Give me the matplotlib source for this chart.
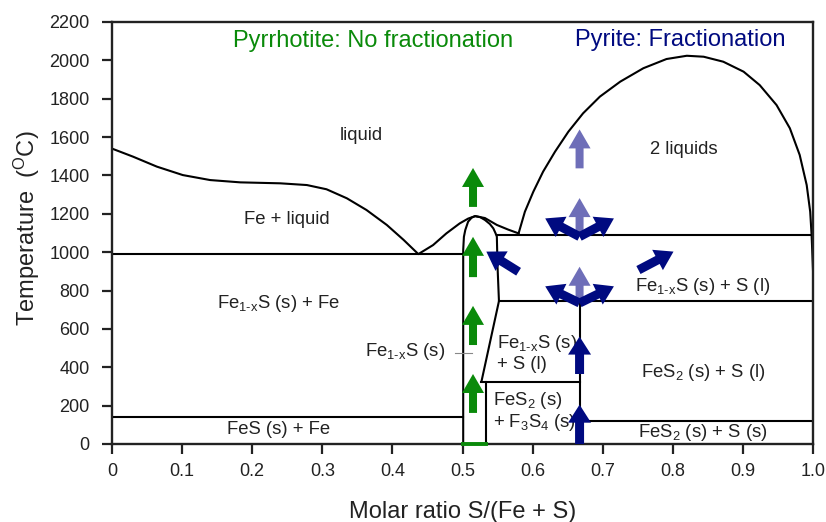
import numpy as np
import matplotlib
matplotlib.use("Agg")
import matplotlib.pyplot as plt
from matplotlib.patches import Polygon
from matplotlib.transforms import IdentityTransform

plt.rcParams['font.family'] = ['Liberation Sans', 'DejaVu Sans']
plt.rcParams['mathtext.fontset'] = 'custom'
plt.rcParams['mathtext.rm'] = 'Liberation Sans'
plt.rcParams['mathtext.it'] = 'Liberation Sans:italic'
plt.rcParams['mathtext.default'] = 'regular'

# ---------------- data ----------------
# liquidus (Fe side -> pyrrhotite maximum -> monotectic)
liq_x = [0.0, 0.030, 0.064, 0.101, 0.140, 0.183, 0.240, 0.278, 0.306, 0.335, 0.363,
         0.392, 0.416, 0.437, 0.458, 0.477, 0.496, 0.508, 0.518, 0.532, 0.549, 0.565, 0.580]
liq_T = [1540, 1498, 1446, 1402, 1376, 1364, 1359, 1350, 1328, 1281, 1220,
         1142, 1064, 990, 1037, 1098, 1150, 1175, 1188, 1178, 1142, 1118, 1098]
# two-liquid dome
dome_x = [0.580, 0.589, 0.601, 0.615, 0.632, 0.651, 0.672, 0.696, 0.725, 0.758, 0.791,
          0.820, 0.844, 0.872, 0.901, 0.924, 0.948, 0.967, 0.981, 0.991, 0.996, 0.998, 1.0]
dome_T = [1098, 1211, 1315, 1420, 1524, 1628, 1724, 1811, 1889, 1959, 2007,
          2024, 2019, 1993, 1941, 1871, 1767, 1646, 1507, 1350, 1211, 1090, 907]
# pyrrhotite (Fe1-xS) field boundary
po_x = [0.501, 0.501, 0.502, 0.504, 0.508, 0.513, 0.518, 0.525, 0.532, 0.539, 0.544,
        0.547, 0.549, 0.550, 0.552, 0.527]
po_T = [0, 1011, 1080, 1116, 1159, 1180, 1188, 1183, 1168, 1147, 1124,
        1100, 1081, 924, 745, 325]
# horizontal invariant lines: (x_start, x_end, T)
h_x0 = [0.0, 0.0, 0.549, 0.552, 0.527, 0.667]
h_x1 = [0.501, 0.501, 1.0, 1.0, 0.667, 1.0]
h_T = [990, 140, 1090, 745, 325, 120]
# vertical lines: (x, T_bottom, T_top)
v_x = [0.534, 0.667]
v_T0 = [0, 0]
v_T1 = [325, 745]

# arrows: tail (x, T) -> tip (x, T)
green_x = [0.515, 0.515, 0.515, 0.515]
green_T0 = [1236, 870, 516, 162]
green_T1 = [1439, 1080, 720, 365]
navy_x0 = [0.667, 0.667, 0.667, 0.667, 0.667, 0.667, 0.580, 0.751]
navy_T0 = [0, 365, 1081, 1081, 735, 735, 898, 907]
navy_x1 = [0.667, 0.667, 0.618, 0.716, 0.618, 0.716, 0.534, 0.801]
navy_T1 = [205, 560, 1176, 1176, 822, 822, 1003, 1003]
light_x = [0.667, 0.667, 0.667]
light_T0 = [1437, 1095, 750]
light_T1 = [1640, 1282, 924]

xticks = [0, 0.1, 0.2, 0.3, 0.4, 0.5, 0.6, 0.7, 0.8, 0.9, 1.0]
xticklabels = ['0', '0.1', '0.2', '0.3', '0.4', '0.5', '0.6', '0.7', '0.8', '0.9', '1.0']
yticks = [0, 200, 400, 600, 800, 1000, 1200, 1400, 1600, 1800, 2000, 2200]

GREEN = '#0a8a0a'
NAVY = '#000a80'
LIGHT = '#6e6eb8'

# ---------------- figure ----------------
fig = plt.figure(figsize=(8.26, 5.22), dpi=100)
ax = fig.add_axes([112 / 826, 1 - 444 / 522, 701 / 826, 422 / 522])
ax.set_xlim(0, 1.0)
ax.set_ylim(0, 2200)

lw = 1.5
ax.plot(liq_x, liq_T, color='black', lw=lw)
ax.plot(dome_x, dome_T, color='black', lw=lw)
ax.plot(po_x, po_T, color='black', lw=lw)
for a, b, t in zip(h_x0, h_x1, h_T):
    ax.plot([a, b], [t, t], color='black', lw=lw)
for x, t0, t1 in zip(v_x, v_T0, v_T1):
    ax.plot([x, x], [t0, t1], color='black', lw=lw)

# green base of pyrrhotite field
ax.plot([0.501, 0.534], [0, 0], color=GREEN, lw=2.8, zorder=5, clip_on=False)
# pointer line
ax.plot([0.489, 0.513], [476, 476], color='#888888', lw=0.8)

for s in ax.spines.values():
    s.set_linewidth(1.7)
    s.set_color('#222222')

ax.set_xticks(xticks)
ax.set_xticklabels(xticklabels)
ax.set_yticks(yticks)
ax.tick_params(axis='both', direction='out', length=7, width=1.6, color='#222222',
               labelsize=13, labelcolor='#222222')
ax.tick_params(axis='y', pad=9)
ax.tick_params(axis='x', pad=7)

ax.set_xlabel('Molar ratio S/(Fe + S)', fontsize=17, color='#222222')
ax.xaxis.set_label_coords(0.5, -0.135)
ax.set_ylabel('Temperature  ($^{O}$C)', fontsize=17, color='#222222')
ax.yaxis.set_label_coords(-0.100, 0.512)

fs = 13.3
tc = '#222222'
ax.text(0.356, 1610, 'liquid', fontsize=fs, ha='center', va='center', color=tc)
ax.text(0.25, 1168, 'Fe + liquid', fontsize=fs, ha='center', va='center', color=tc)
ax.text(0.815, 1533, '2 liquids', fontsize=fs, ha='center', va='center', color=tc)
ax.text(0.238, 733, r'Fe$_{1\text{-}x}$S (s) + Fe', fontsize=fs, ha='center', va='center', color=tc)
ax.text(0.475, 481, r'Fe$_{1\text{-}x}$S (s)', fontsize=fs, ha='right', va='center', color=tc)
ax.text(0.237, 76, 'FeS (s) + Fe', fontsize=fs, ha='center', va='center', color=tc)
ax.text(0.549, 525, r'Fe$_{1\text{-}x}$S (s)', fontsize=fs, ha='left', va='center', color=tc)
ax.text(0.549, 415, '+ S (l)', fontsize=fs, ha='left', va='center', color=tc)
ax.text(0.543, 229, r'FeS$_2$ (s)', fontsize=fs, ha='left', va='center', color=tc)
ax.text(0.543, 111, r'+ F$_3$S$_4$ (s)', fontsize=fs, ha='left', va='center', color=tc)
ax.text(0.843, 820, r'Fe$_{1\text{-}x}$S (s) + S (l)', fontsize=fs, ha='center', va='center', color=tc)
ax.text(0.843, 372, r'FeS$_2$ (s) + S (l)', fontsize=fs, ha='center', va='center', color=tc)
ax.text(0.843, 61, r'FeS$_2$ (s) + S (s)', fontsize=fs, ha='center', va='center', color=tc)

ax.text(0.372, 2101, 'Pyrrhotite: No fractionation', fontsize=17, ha='center', va='center', color=GREEN)
ax.text(0.81, 2106, 'Pyrite: Fractionation', fontsize=17, ha='center', va='center', color=NAVY)


def arrow(x0, t0, x1, t1, color, shaft=8.0, head_w=22.0, head_l=19.0):
    p0 = ax.transData.transform((x0, t0))
    p1 = ax.transData.transform((x1, t1))
    d = p1 - p0
    L = np.hypot(*d)
    u = d / L
    n = np.array([-u[1], u[0]])
    hb = p1 - u * head_l
    verts = [p0 + n * shaft / 2, hb + n * shaft / 2, hb + n * head_w / 2, p1,
             hb - n * head_w / 2, hb - n * shaft / 2, p0 - n * shaft / 2]
    fig.add_artist(Polygon(verts, closed=True, facecolor=color, edgecolor='none',
                           transform=IdentityTransform(), zorder=6))


for x, a, b in zip(green_x, green_T0, green_T1):
    arrow(x, a, x, b, GREEN)
for x, a, b in zip(light_x, light_T0, light_T1):
    arrow(x, a, x, b, LIGHT)
for x0, a, x1, b in zip(navy_x0, navy_T0, navy_x1, navy_T1):
    arrow(x0, a, x1, b, NAVY, shaft=9.0, head_w=23.0, head_l=18.0)

fig.savefig('out.png', dpi=100)
